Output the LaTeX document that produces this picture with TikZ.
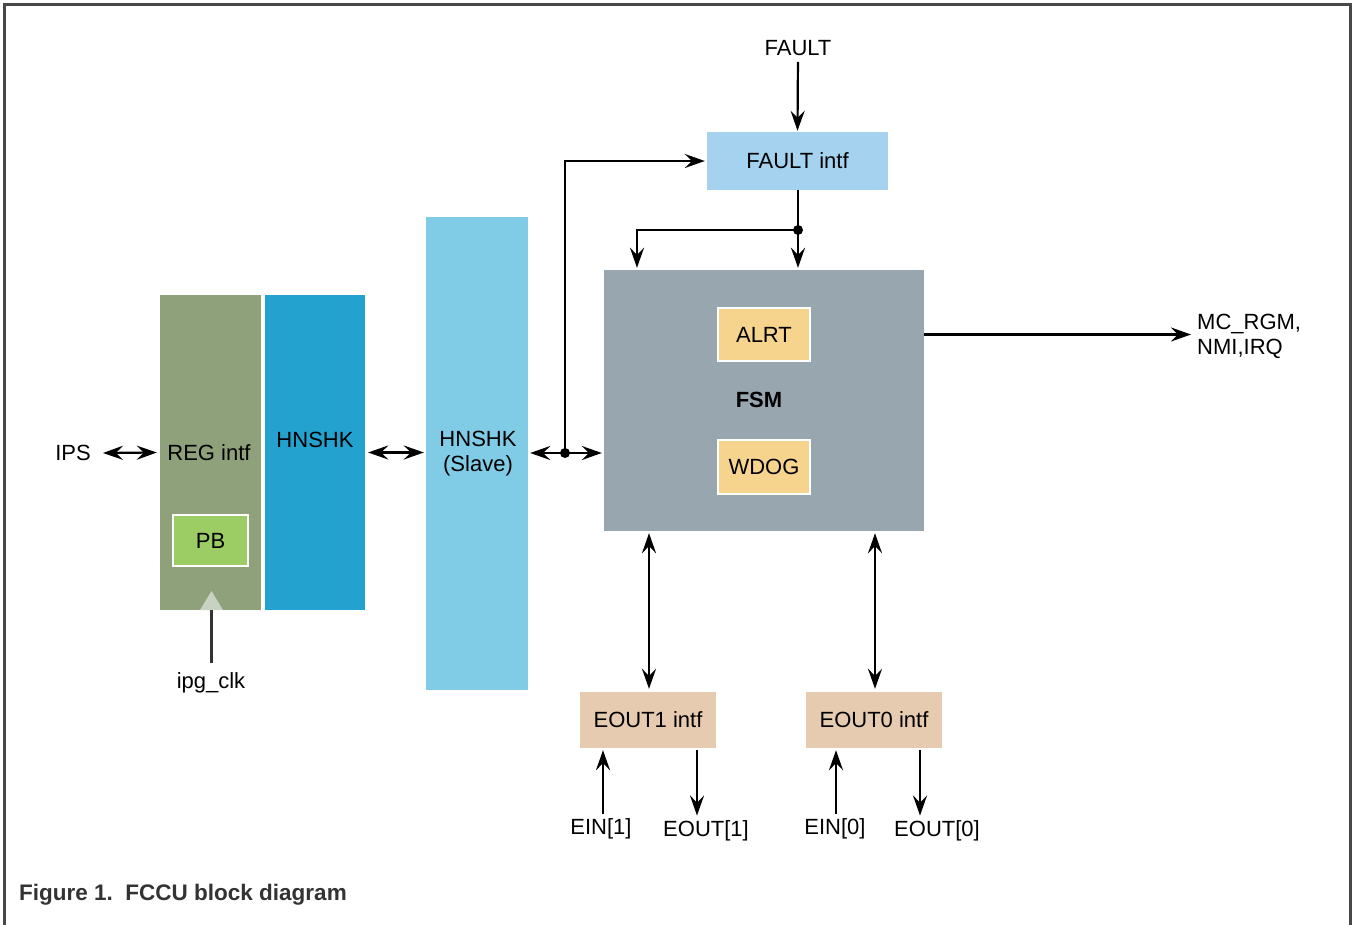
\documentclass[tikz,border=0pt]{standalone}
\usepackage{fontspec}
\setmainfont{Liberation Sans}
\usetikzlibrary{arrows.meta}
\definecolor{regc}{HTML}{8EA17A}
\definecolor{hnc}{HTML}{23A2D0}
\definecolor{slc}{HTML}{80CCE6}
\definecolor{pbc}{HTML}{9CCC64}
\definecolor{fsmc}{HTML}{98A6AF}
\definecolor{alc}{HTML}{F6D48E}
\definecolor{ftc}{HTML}{A5D3EF}
\definecolor{eoc}{HTML}{E6CBB1}
\definecolor{trc}{HTML}{C9D2C2}
\definecolor{framec}{HTML}{484848}
\definecolor{capc}{HTML}{333333}
\begin{document}
\begin{tikzpicture}[x=1pt,y=-1pt,
  lbl/.style={font=\fontsize{22}{25}\selectfont, text=black, inner sep=0pt},
  box/.style={inner sep=0pt, draw=none},
  wbox/.style={draw=white, line width=2pt, inner sep=0pt},
  tip/.tip={Stealth[length=20pt,width=14pt,inset=7pt]},
  conn/.style={line width=2.2pt, -tip},
  dconn/.style={line width=2.2pt, tip-tip},
  wire/.style={line width=2.2pt}]
\useasboundingbox (0,0) rectangle (1352,925);
% frame
\draw[framec, line width=3pt] (4.5,925) -- (4.5,5) -- (1350.5,5) -- (1350.5,925);

% left blocks
\node[box, fill=regc, minimum width=101pt, minimum height=315pt] (reg) at (210.5,452.5) {};
\node[box, fill=hnc, minimum width=100pt, minimum height=315pt] (hn) at (315,452.5) {};
\node[box, fill=slc, minimum width=102pt, minimum height=473pt] (sl) at (477,453.5) {};
\node[wbox, fill=pbc, minimum width=75pt, minimum height=51pt] (pb) at (210.5,540.5) {};
\node[lbl] at (pb) {PB};
\node[lbl] (regt) at (209,453) {REG intf};
\node[lbl] (hnt) at (315,440) {HNSHK};
\node[lbl, align=center] (slt) at (478,453.5) {HNSHK\\(Slave)};
\node[lbl] (ips) at (73,453) {IPS};

% clock triangle
\fill[trc] (200,610) -- (211.5,591) -- (223,610) -- cycle;
\node[lbl, anchor=base] (clk) at (211,688) {ipg\_clk};
\coordinate (ct) at (211.5,610);
\draw[capc, line width=2.2pt] (ct) -- (211.5,663);

% FSM
\node[box, fill=fsmc, minimum width=320pt, minimum height=261pt] (fsm) at (764,400.5) {};
\node[wbox, fill=alc, minimum width=92pt, minimum height=53pt] (alrt) at (764,334.5) {};
\node[lbl] at (alrt) {ALRT};
\node[wbox, fill=alc, minimum width=92pt, minimum height=54pt] (wdog) at (764,467) {};
\node[lbl] at (wdog) {WDOG};
\node[lbl, font=\fontsize{22}{25}\selectfont\bfseries] at (759,400) {FSM};

% FAULT intf
\node[box, fill=ftc, minimum width=181pt, minimum height=58pt] (fault) at (797.5,161) {};
\node[lbl] at (fault) {FAULT intf};
\node[lbl] (faultl) at (798,48) {FAULT};

% EOUT interfaces
\node[box, fill=eoc, minimum width=136pt, minimum height=56pt] (e1) at (648,720) {};
\node[lbl] at (e1) {EOUT1 intf};
\node[box, fill=eoc, minimum width=136pt, minimum height=56pt] (e0) at (874,720) {};
\node[lbl] at (e0) {EOUT0 intf};

\node[lbl] (ein1) at (601,829) {EIN[1]};
\node[lbl] (eo1) at (706,831) {EOUT[1]};
\node[lbl] (ein0) at (835,829) {EIN[0]};
\node[lbl] (eo0) at (937,831) {EOUT[0]};

\node[lbl, anchor=west, align=left, font=\fontsize{22}{25}\selectfont] (mc) at (1197,336) {MC\_RGM,\\NMI,IRQ};

% connectors
\draw[dconn] ([xshift=12pt]ips.east) -- ([xshift=-3pt]reg.west);
\draw[dconn] ([xshift=3pt]hn.east) -- ([xshift=-2pt]sl.west |- hn.east);

\coordinate (j) at (565,453);
\draw[dconn] ([xshift=2pt]sl.east |- j) -- ([xshift=-2pt]fsm.west |- j);
\draw[conn] (j) |- ([xshift=-2pt]fault.west);
\fill (j) circle (5pt);

\draw[conn, shorten <=6pt] (faultl.south) -- ([yshift=1pt]fault.north);
\coordinate (j2) at (798,230);
\coordinate (b) at (637,230);
\draw[wire] (fault.south -| j2) -- (j2);
\draw[conn] (j2) -- ([yshift=2pt]fsm.north -| j2);
\draw[conn] (j2) -- (b) -- ([yshift=2pt]fsm.north -| b);
\fill (j2) circle (5pt);

\draw[conn, shorten >=6pt] (fsm.east |- alrt) -- (mc.west |- alrt);

\draw[dconn] ([yshift=-2pt]fsm.south -| 649,0) -- ([yshift=3pt]e1.north -| 649,0);
\draw[dconn] ([yshift=-2pt]fsm.south -| 875,0) -- ([yshift=3pt]e0.north -| 875,0);

\draw[conn] ([yshift=5pt]ein1.north -| 603,0) -- ([yshift=-2pt]e1.south -| 603,0);
\draw[conn] ([yshift=-2pt]e1.south -| 697,0) -- ([yshift=5pt]eo1.north -| 697,0);
\draw[conn] ([yshift=5pt]ein0.north -| 836,0) -- ([yshift=-2pt]e0.south -| 836,0);
\draw[conn] ([yshift=-2pt]e0.south -| 920,0) -- ([yshift=5pt]eo0.north -| 920,0);

% caption
\node[lbl, anchor=west, text=capc, font=\fontsize{22.5}{25}\selectfont\bfseries] (cap) at (19,895) {Figure 1.\ \ FCCU block diagram};
\end{tikzpicture}
\end{document}
